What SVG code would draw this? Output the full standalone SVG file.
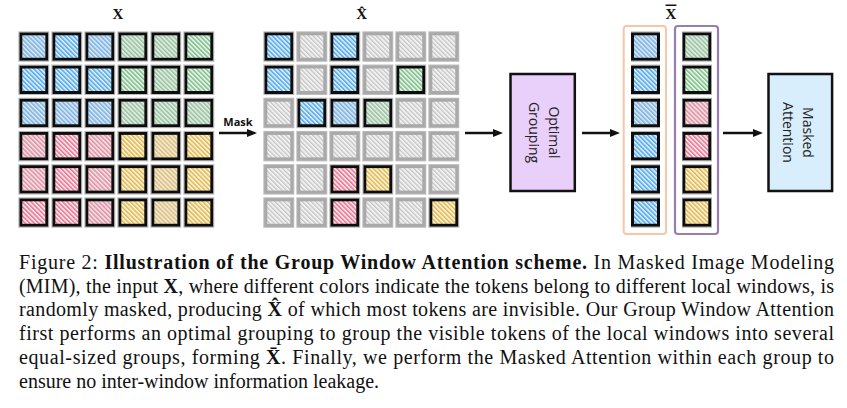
<svg xmlns="http://www.w3.org/2000/svg" width="847" height="408" viewBox="0 0 847 408">
<style>
.t{stroke:#111;stroke-width:3}
.m{stroke:#a9a9a9;stroke-width:3;fill:url(#pg)}
.b{fill:url(#pb)} .g{fill:url(#pgr)} .r{fill:url(#pr)} .y{fill:url(#py)}
.lt{fill-opacity:0.72}
.ttl{font-family:"Liberation Serif",serif;font-weight:bold;font-size:15px;text-anchor:middle;fill:#111}
.bx{stroke:#111;stroke-width:2.5}
.bt{font-family:"Open Sans","Liberation Sans",sans-serif;font-size:14px;text-anchor:middle;fill:#222}
.arr{stroke:#111;stroke-width:2.5;fill:none;marker-end:url(#ah)}
.cap{font-family:"Liberation Serif","Times New Roman",serif;font-size:20px;fill:#111}
.bd{font-weight:bold}
</style>
<defs>
<pattern id="pb" patternUnits="userSpaceOnUse" width="3.2" height="4" patternTransform="rotate(-45)"><rect width="3.2" height="4" fill="#fff"/><rect x="0.2" width="1.1" height="4" fill="#1a8ce6"/><rect x="1.9" width="0.7" height="4" fill="#9fd0f5"/></pattern>
<pattern id="pgr" patternUnits="userSpaceOnUse" width="3.2" height="4" patternTransform="rotate(-45)"><rect width="3.2" height="4" fill="#fff"/><rect x="0.2" width="1.1" height="4" fill="#55aa66"/><rect x="1.9" width="0.7" height="4" fill="#c0e0c4"/></pattern>
<pattern id="pr" patternUnits="userSpaceOnUse" width="3.2" height="4" patternTransform="rotate(-45)"><rect width="3.2" height="4" fill="#fff"/><rect x="0.2" width="1.1" height="4" fill="#e2486e"/><rect x="1.9" width="0.7" height="4" fill="#f6bccb"/></pattern>
<pattern id="py" patternUnits="userSpaceOnUse" width="3.2" height="4" patternTransform="rotate(-45)"><rect width="3.2" height="4" fill="#fff"/><rect x="0.2" width="1.1" height="4" fill="#d9a114"/><rect x="1.9" width="0.7" height="4" fill="#f2dc9c"/></pattern>
<pattern id="pg" patternUnits="userSpaceOnUse" width="3.2" height="4" patternTransform="rotate(-45)"><rect width="3.2" height="4" fill="#fff"/><rect x="0.2" width="1" height="4" fill="#b0b0b0"/><rect x="1.9" width="0.7" height="4" fill="#e2e2e2"/></pattern>
<filter id="halo" x="-5%" y="-5%" width="110%" height="110%">
<feMorphology in="SourceAlpha" operator="dilate" radius="1" result="d"/>
<feFlood flood-color="#bdbdbd"/>
<feComposite in2="d" operator="in" result="h"/>
<feMerge><feMergeNode in="h"/><feMergeNode in="SourceGraphic"/></feMerge>
</filter>
<marker id="ah" viewBox="0 0 10 8" markerWidth="10" markerHeight="8" refX="3" refY="4" markerUnits="userSpaceOnUse" orient="auto"><path d="M0,0 L10,4 L0,8 z" fill="#111"/></marker>
</defs>
<rect width="847" height="408" fill="#fff"/>

<g id="grid-x">
<text class="ttl" x="118" y="18.5">X</text>
<g filter="url(#halo)">
<rect class="t b lt" x="20.8" y="33.8" width="26" height="25.5"/><rect class="t b" x="53.8" y="33.8" width="26" height="25.5"/><rect class="t b lt" x="86.8" y="33.8" width="26" height="25.5"/><rect class="t g lt" x="119.8" y="33.8" width="26" height="25.5"/><rect class="t g lt" x="152.8" y="33.8" width="26" height="25.5"/><rect class="t g" x="185.8" y="33.8" width="26" height="25.5"/>
<rect class="t b" x="20.8" y="67" width="26" height="25.5"/><rect class="t b" x="53.8" y="67" width="26" height="25.5"/><rect class="t b" x="86.8" y="67" width="26" height="25.5"/><rect class="t g" x="119.8" y="67" width="26" height="25.5"/><rect class="t g lt" x="152.8" y="67" width="26" height="25.5"/><rect class="t g" x="185.8" y="67" width="26" height="25.5"/>
<rect class="t b lt" x="20.8" y="100.2" width="26" height="25.5"/><rect class="t b lt" x="53.8" y="100.2" width="26" height="25.5"/><rect class="t b lt" x="86.8" y="100.2" width="26" height="25.5"/><rect class="t g lt" x="119.8" y="100.2" width="26" height="25.5"/><rect class="t g lt" x="152.8" y="100.2" width="26" height="25.5"/><rect class="t g lt" x="185.8" y="100.2" width="26" height="25.5"/>
<rect class="t r lt" x="20.8" y="133.4" width="26" height="25.5"/><rect class="t r" x="53.8" y="133.4" width="26" height="25.5"/><rect class="t r lt" x="86.8" y="133.4" width="26" height="25.5"/><rect class="t y" x="119.8" y="133.4" width="26" height="25.5"/><rect class="t y lt" x="152.8" y="133.4" width="26" height="25.5"/><rect class="t y" x="185.8" y="133.4" width="26" height="25.5"/>
<rect class="t r lt" x="20.8" y="166.6" width="26" height="25.5"/><rect class="t r" x="53.8" y="166.6" width="26" height="25.5"/><rect class="t r lt" x="86.8" y="166.6" width="26" height="25.5"/><rect class="t y" x="119.8" y="166.6" width="26" height="25.5"/><rect class="t y lt" x="152.8" y="166.6" width="26" height="25.5"/><rect class="t y" x="185.8" y="166.6" width="26" height="25.5"/>
<rect class="t r" x="20.8" y="199.8" width="26" height="25.5"/><rect class="t r" x="53.8" y="199.8" width="26" height="25.5"/><rect class="t r lt" x="86.8" y="199.8" width="26" height="25.5"/><rect class="t y" x="119.8" y="199.8" width="26" height="25.5"/><rect class="t y lt" x="152.8" y="199.8" width="26" height="25.5"/><rect class="t y" x="185.8" y="199.8" width="26" height="25.5"/>
</g>
</g>

<g id="grid-xhat">
<text class="ttl" x="361.7" y="19">X̂</text>
<g filter="url(#halo)">
<rect class="t b" x="265.8" y="33.8" width="26" height="25.5"/><rect class="m" x="298.8" y="33.8" width="26" height="25.5"/><rect class="t b" x="331.8" y="33.8" width="26" height="25.5"/><rect class="m" x="364.8" y="33.8" width="26" height="25.5"/><rect class="m" x="397.8" y="33.8" width="26" height="25.5"/><rect class="m" x="430.8" y="33.8" width="26" height="25.5"/>
<rect class="t b" x="265.8" y="67" width="26" height="25.5"/><rect class="m" x="298.8" y="67" width="26" height="25.5"/><rect class="t b" x="331.8" y="67" width="26" height="25.5"/><rect class="m" x="364.8" y="67" width="26" height="25.5"/><rect class="t g" x="397.8" y="67" width="26" height="25.5"/><rect class="m" x="430.8" y="67" width="26" height="25.5"/>
<rect class="m" x="265.8" y="100.2" width="26" height="25.5"/><rect class="t b" x="298.8" y="100.2" width="26" height="25.5"/><rect class="t b lt" x="331.8" y="100.2" width="26" height="25.5"/><rect class="t g lt" x="364.8" y="100.2" width="26" height="25.5"/><rect class="m" x="397.8" y="100.2" width="26" height="25.5"/><rect class="m" x="430.8" y="100.2" width="26" height="25.5"/>
<rect class="m" x="265.8" y="133.4" width="26" height="25.5"/><rect class="m" x="298.8" y="133.4" width="26" height="25.5"/><rect class="m" x="331.8" y="133.4" width="26" height="25.5"/><rect class="m" x="364.8" y="133.4" width="26" height="25.5"/><rect class="m" x="397.8" y="133.4" width="26" height="25.5"/><rect class="m" x="430.8" y="133.4" width="26" height="25.5"/>
<rect class="m" x="265.8" y="166.6" width="26" height="25.5"/><rect class="m" x="298.8" y="166.6" width="26" height="25.5"/><rect class="t r" x="331.8" y="166.6" width="26" height="25.5"/><rect class="t y" x="364.8" y="166.6" width="26" height="25.5"/><rect class="m" x="397.8" y="166.6" width="26" height="25.5"/><rect class="m" x="430.8" y="166.6" width="26" height="25.5"/>
<rect class="m" x="265.8" y="199.8" width="26" height="25.5"/><rect class="m" x="298.8" y="199.8" width="26" height="25.5"/><rect class="t r" x="331.8" y="199.8" width="26" height="25.5"/><rect class="m" x="364.8" y="199.8" width="26" height="25.5"/><rect class="m" x="397.8" y="199.8" width="26" height="25.5"/><rect class="t y" x="430.8" y="199.8" width="26" height="25.5"/>
</g>
</g>

<g id="box-optimal-grouping">
<rect class="bx" x="510.5" y="74" width="64.3" height="117" fill="#e9d0fb"/>
<g transform="translate(542.7,132.5) rotate(90)">
<text class="bt" x="0" y="-6.3">Optimal</text>
<text class="bt" x="0" y="13.7">Grouping</text>
</g>
</g>

<g id="xbar-groups">
<text class="ttl" x="671" y="18.5" style="text-decoration:overline">X</text>
<g id="group-1">
<rect x="623.7" y="26" width="42.3" height="208" rx="3" fill="none" stroke="#f6c6a5" stroke-width="2"/>
<g filter="url(#halo)">
<rect class="t b lt" x="632.5" y="33.8" width="26" height="25.5"/>
<rect class="t b" x="632.5" y="67" width="26" height="25.5"/>
<rect class="t b lt" x="632.5" y="100.2" width="26" height="25.5"/>
<rect class="t b" x="632.5" y="133.4" width="26" height="25.5"/>
<rect class="t b" x="632.5" y="166.6" width="26" height="25.5"/>
<rect class="t b" x="632.5" y="199.8" width="26" height="25.5"/>
</g>
</g>
<g id="group-2">
<rect x="675" y="26" width="43" height="208" rx="3" fill="none" stroke="#9a7db0" stroke-width="2.2"/>
<g filter="url(#halo)">
<rect class="t g lt" x="683.8" y="33.8" width="26" height="25.5"/>
<rect class="t g" x="683.8" y="67" width="26" height="25.5"/>
<rect class="t r lt" x="683.8" y="100.2" width="26" height="25.5"/>
<rect class="t r" x="683.8" y="133.4" width="26" height="25.5"/>
<rect class="t y" x="683.8" y="166.6" width="26" height="25.5"/>
<rect class="t y" x="683.8" y="199.8" width="26" height="25.5"/>
</g>
</g>
</g>

<g id="box-masked-attention">
<rect class="bx" x="768.5" y="74" width="63.6" height="117" fill="#d8eefd"/>
<g transform="translate(800.3,132.5) rotate(90)">
<text class="bt" x="0" y="-2.5">Masked</text>
<text class="bt" x="0" y="17.5">Attention</text>
</g>
</g>

<g id="connectors">
<text x="238" y="125.5" font-family="'Open Sans','Liberation Sans',sans-serif" font-weight="bold" font-size="11" text-anchor="middle" fill="#111">Mask</text>
<line class="arr" x1="219" y1="133" x2="250" y2="133"/>
<line class="arr" x1="465" y1="133" x2="496" y2="133"/>
<line class="arr" x1="582" y1="133" x2="613" y2="133"/>
<line class="arr" x1="723" y1="133" x2="756" y2="133"/>
</g>

<g id="caption">
<text class="cap" x="19" y="269" textLength="815">Figure 2:  <tspan class="bd">Illustration of the Group Window Attention scheme.</tspan>  In Masked Image Modeling</text>
<text class="cap" x="19" y="292.5" textLength="815">(MIM), the input <tspan class="bd">X</tspan>, where different colors indicate the tokens belong to different local windows, is</text>
<text class="cap" x="19" y="316.2" textLength="815">randomly masked, producing <tspan class="bd">X̂</tspan> of which most tokens are invisible. Our Group Window Attention</text>
<text class="cap" x="19" y="340" textLength="815">first performs an optimal grouping to group the visible tokens of the local windows into several</text>
<text class="cap" x="19" y="363.7" textLength="815">equal-sized groups, forming <tspan class="bd">X̄</tspan>.  Finally, we perform the Masked Attention within each group to</text>
<text class="cap" x="19" y="387.5">ensure no inter-window information leakage.</text>
</g>
</svg>
